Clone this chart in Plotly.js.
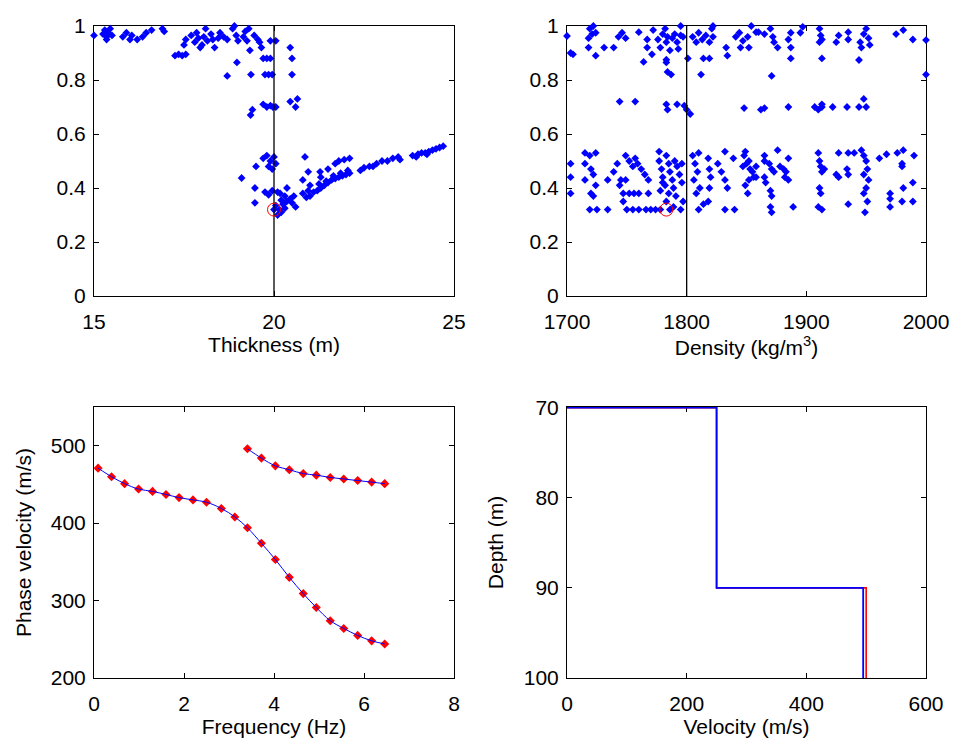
<!DOCTYPE html>
<html>
<head>
<meta charset="utf-8">
<script src="https://cdn.plot.ly/plotly-3.0.1.min.js"></script>
<style>html,body{margin:0;padding:0;background:#fff;}#plot{width:954px;height:738px;}</style>
</head>
<body>
<div id="plot"></div>
<script>
// ---- Top-left: thickness vs misfit ----
const thicknessVals = [
15.0,15.25,15.3,15.35,15.4,15.45,15.5,15.35,15.8,15.9,
16.0,16.05,16.2,16.35,16.45,16.6,16.9,16.95,17.25,17.35,
17.45,17.55,17.5,17.55,17.7,17.8,17.85,17.9,18.0,18.05,
18.1,18.15,17.95,18.35,18.45,18.5,18.6,18.7,18.85,18.9,
18.95,19.0,18.97,18.7,19.15,19.2,19.25,19.3,19.33,19.36,
19.45,19.55,19.6,19.65,19.7,19.8,19.9,19.75,19.85,19.9,
19.7,19.8,19.9,19.97,19.4,19.35,19.95,20.45,20.5,20.5,
20.45,20.65,20.6,19.7,19.8,19.9,20.0,20.05,19.85,19.95,
19.5,19.1,19.47,19.75,19.85,19.95,20.1,20.17,19.47,20.0,
20.05,20.15,20.25,20.3,20.35,20.45,20.5,20.55,20.36,20.2,
20.1,20.2,20.86,20.95,20.8,20.8,20.95,20.9,21.0,21.1,
21.2,21.3,21.4,21.5,21.6,21.7,21.8,21.9,22.0,22.1,
21.25,21.45,21.65,21.85,22.05,21.28,21.5,21.7,21.8,21.95,
22.1,22.4,22.5,22.65,22.75,22.85,23.0,23.15,23.3,23.45,
23.5,23.85,24.0,24.1,24.2,24.3,24.4,24.5,24.6,24.7,
23.95,24.25,20.3,20.6,21.0,21.3,20.05,20.05,18.3,18.25];
const misfitThickness = [
0.965,0.97,0.985,0.96,0.975,0.99,0.965,0.95,0.96,0.975,
0.95,0.965,0.95,0.96,0.975,0.985,0.99,0.98,0.89,0.895,
0.89,0.895,0.93,0.95,0.965,0.94,0.975,0.955,0.93,0.96,
0.99,0.945,0.92,0.92,0.955,0.975,0.96,0.95,0.99,1.0,
0.965,0.945,0.865,0.815,0.96,0.98,0.945,0.99,0.91,0.82,
0.965,0.95,0.94,0.92,0.88,0.88,0.88,0.82,0.82,0.945,
0.71,0.70,0.705,0.70,0.69,0.67,0.82,0.92,0.88,0.82,
0.72,0.73,0.70,0.51,0.52,0.50,0.515,0.49,0.48,0.47,
0.48,0.437,0.40,0.385,0.375,0.39,0.385,0.38,0.345,0.32,
0.335,0.32,0.34,0.325,0.35,0.36,0.345,0.37,0.40,0.355,
0.30,0.31,0.515,0.46,0.43,0.38,0.39,0.365,0.37,0.385,
0.39,0.40,0.41,0.42,0.43,0.435,0.44,0.445,0.45,0.455,
0.415,0.425,0.445,0.455,0.465,0.46,0.47,0.49,0.50,0.505,
0.51,0.465,0.475,0.48,0.48,0.49,0.50,0.50,0.51,0.515,
0.505,0.52,0.525,0.53,0.53,0.535,0.54,0.545,0.55,0.555,
0.515,0.525,0.37,0.33,0.41,0.44,0.7,0.945,0.95,0.97];
const bestThickness = 20, bestThicknessMisfit = 0.32;

// ---- Top-right: density vs misfit ----
const densityVals = [
1700,1703,1705,1719,1722,1724,1721,1718,1718,1724,
1731,1739,1743,1746,1749,1760,1764,1767,1767,1772,
1771,1776,1778,1780,1782,1783,1784,1786,1788,1790,
1792,1795,1793,1797,1783,1783,1784,1787,1795,1744,
1757,1783,1784,1792,1798,1800,1803,1801,1805,1808,
1810,1813,1816,1819,1822,1814,1819,1812,1821,1822,
1833,1834,1841,1844,1847,1851,1845,1852,1854,1860,
1848,1862,1858,1865,1870,1872,1873,1876,1885,1887,
1887,1887,1895,1897,1911,1912,1913,1911,1913,1925,
1927,1935,1935,1945,1948,1950,1952,1953,1946,1944,
1975,1981,1989,2000,2000,1871,1865,1885,1907,1910,
1913,1922,1934,1944,1948,1950,1913,
1703,1703,1703,1715,1715,1715,1719,1720,1722,1724,
1720,1722,1724,1719,1725,1734,1734,1739,1742,1744,
1747,1745,1747,1749,1752,1755,1757,1759,1749,1752,
1756,1760,1750,1755,1760,1762,1765,1768,1768,1766,
1770,1774,1778,1777,1777,1779,1780,1782,1783,1785,
1786,1788,1789,1790,1792,1794,1796,1796,1778,1785,
1791,1783,1789,1795,1797,1786,1780,1805,1810,1807,
1809,1806,1811,1808,1810,1814,1818,1818,1819,1820,
1819,1826,1829,1832,1834,1832,1832,1840,1839,1847,
1849,1852,1855,1851,1852,1848,1850,1853,1856,1849,
1858,1858,1865,1865,1865,1866,1869,1871,1873,1870,
1871,1870,1871,1876,1878,1881,1883,1882,1885,1885,
1889,1910,1911,1912,1913,1915,1911,1912,1910,1913,
1925,1927,1927,1935,1940,1934,1935,1935,1946,1948,
1950,1951,1948,1952,1950,1948,1951,1949,1961,1967,
1976,1981,1980,1980,1990,1989,1981,1970,1970,1970,
1980,1989];
const misfitDensity = [
0.963,0.90,0.895,0.99,1.0,0.975,0.97,0.955,0.92,0.89,
0.92,0.92,0.96,0.975,0.955,0.977,0.867,0.95,0.92,0.985,
0.895,0.95,0.92,0.97,0.99,0.94,0.96,0.91,0.955,0.97,
0.94,0.965,0.915,0.96,0.875,0.865,0.83,0.82,1.0,0.72,
0.72,0.71,0.69,0.71,0.705,0.69,0.674,0.88,0.96,0.94,
0.975,0.95,0.965,0.94,0.96,0.88,0.88,0.82,0.99,1.0,
0.92,0.89,0.96,0.975,0.945,0.96,0.92,0.92,1.0,0.977,
0.696,0.69,0.977,0.97,0.99,0.96,0.94,0.92,0.95,0.975,
0.92,0.88,0.975,0.997,0.99,0.965,0.95,0.94,0.88,0.94,
0.965,0.977,0.95,0.94,0.97,0.99,0.955,0.93,0.92,0.874,
0.97,0.985,0.95,0.948,0.82,0.815,0.696,0.70,0.70,0.69,
0.71,0.70,0.70,0.70,0.73,0.70,0.70,
0.49,0.44,0.38,0.53,0.49,0.43,0.52,0.47,0.45,0.41,
0.38,0.37,0.53,0.32,0.32,0.43,0.32,0.46,0.49,0.41,
0.38,0.43,0.35,0.52,0.50,0.48,0.51,0.49,0.43,0.38,
0.38,0.38,0.32,0.32,0.32,0.47,0.45,0.43,0.38,0.32,
0.32,0.32,0.32,0.535,0.50,0.47,0.44,0.41,0.52,0.49,
0.46,0.43,0.40,0.50,0.48,0.45,0.42,0.49,0.39,0.38,
0.37,0.35,0.33,0.32,0.35,0.32,0.42,0.52,0.53,0.49,
0.46,0.43,0.40,0.38,0.32,0.34,0.35,0.51,0.47,0.44,
0.40,0.49,0.46,0.43,0.40,0.535,0.32,0.32,0.51,0.48,
0.535,0.50,0.46,0.38,0.43,0.52,0.49,0.47,0.44,0.41,
0.48,0.44,0.52,0.50,0.44,0.42,0.49,0.47,0.46,0.39,
0.37,0.33,0.31,0.54,0.48,0.47,0.46,0.44,0.43,0.51,
0.33,0.53,0.50,0.48,0.46,0.47,0.40,0.38,0.33,0.32,
0.45,0.44,0.53,0.53,0.53,0.47,0.45,0.34,0.54,0.52,
0.50,0.47,0.45,0.43,0.40,0.38,0.35,0.31,0.51,0.525,
0.53,0.54,0.49,0.48,0.52,0.42,0.40,0.38,0.36,0.33,
0.35,0.35];
const bestDensity = 1800, foundDensity = 1783, foundDensityMisfit = 0.32;

// ---- Bottom-left: dispersion curves ----
const freqMode0 = [0.09,0.39,0.68,0.99,1.30,1.60,1.89,2.20,2.50,2.83,3.13,3.41,3.72,4.03,4.34,4.65,4.94,5.25,5.55,5.86,6.17,6.46];
const velMode0 = [471,460,451,444,441,437,433,430,427,419,408,394,374,353,330,309,291,274,264,255,248,244];
const freqMode1 = [3.41,3.72,4.03,4.34,4.65,4.94,5.25,5.55,5.86,6.17,6.46];
const velMode1 = [496,484,474,469,464,462,459,457,455,453,451];

// ---- Bottom-right: velocity profiles ----
const depthProfile = [70,70,90,90,100];
const velTrue = [0,250,250,500,500];
const velInverted = [0,250,250,495,495];

const FONT = 'Liberation Sans, Arial, Helvetica, sans-serif';
const FS = 21;
function ax(o){
  return Object.assign({
    showline:true, linecolor:'#000', linewidth:1, mirror:'ticks',
    ticks:'inside', ticklen:5, tickcolor:'#000', tickwidth:1,
    showgrid:false, zeroline:false, tickfont:{family:FONT,size:FS,color:'#000'},
    automargin:false, layer:'below traces'
  }, o);
}
function xax(o){ return ax(Object.assign({ticklabelstandoff:7}, o)); }
function yax(o){ return ax(Object.assign({ticklabelstandoff:3}, o)); }
function ttl(t, s){ return {text:t, font:{family:FONT,size:FS,color:'#000'}, standoff:s}; }

const blueMk = {symbol:'diamond', size:6, color:'#0000ff'};
const traces = [
  {x:thicknessVals, y:misfitThickness, type:'scatter', mode:'markers', marker:blueMk, xaxis:'x', yaxis:'y', cliponaxis:false},
  {x:[bestThickness,bestThickness], y:[0,1], type:'scatter', mode:'lines', line:{color:'#000',width:1.3}, xaxis:'x', yaxis:'y'},
  {x:[bestThickness], y:[bestThicknessMisfit], type:'scatter', mode:'markers', marker:{symbol:'circle-open', size:13, color:'#ff0000', line:{width:1}}, xaxis:'x', yaxis:'y'},

  {x:densityVals, y:misfitDensity, type:'scatter', mode:'markers', marker:blueMk, xaxis:'x2', yaxis:'y2', cliponaxis:false},
  {x:[bestDensity,bestDensity], y:[0,1], type:'scatter', mode:'lines', line:{color:'#000',width:1.3}, xaxis:'x2', yaxis:'y2'},
  {x:[foundDensity], y:[foundDensityMisfit], type:'scatter', mode:'markers', marker:{symbol:'circle-open', size:13, color:'#ff0000', line:{width:1}}, xaxis:'x2', yaxis:'y2'},

  {x:freqMode0, y:velMode0, type:'scatter', mode:'markers', marker:{symbol:'diamond', size:7, color:'#ff0000'}, xaxis:'x3', yaxis:'y3'},
  {x:freqMode1, y:velMode1, type:'scatter', mode:'markers', marker:{symbol:'diamond', size:7, color:'#ff0000'}, xaxis:'x3', yaxis:'y3'},
  {x:freqMode0, y:velMode0, type:'scatter', mode:'lines', line:{color:'#0000ff', width:1, shape:'spline'}, xaxis:'x3', yaxis:'y3'},
  {x:freqMode1, y:velMode1, type:'scatter', mode:'lines', line:{color:'#0000ff', width:1, shape:'spline'}, xaxis:'x3', yaxis:'y3'},

  {x:velTrue, y:depthProfile, type:'scatter', mode:'lines', line:{color:'#ff0000', width:1.6}, xaxis:'x4', yaxis:'y4'},
  {x:velInverted, y:depthProfile, type:'scatter', mode:'lines', line:{color:'#0000ff', width:1.8}, xaxis:'x4', yaxis:'y4'}
];

const W=954, H=738;
const dx1=[94/W,454/W], dx2=[567/W,926/W];
const dyT=[1-296/H,1-26/H], dyB=[1-678/H,1-407/H];
const misfitTicks=[0,0.2,0.4,0.6,0.8,1], misfitLabels=['0','0.2','0.4','0.6','0.8','1'];

const layout = {
  width:W, height:H, showlegend:false,
  paper_bgcolor:'#fff', plot_bgcolor:'#fff',
  margin:{l:0,r:0,t:0,b:0},
  font:{family:FONT,size:FS,color:'#000'},
  xaxis: xax({domain:dx1, anchor:'y', range:[15,25], tickvals:[15,20,25], title:ttl('Thickness (m)',3)}),
  yaxis: yax({domain:dyT, anchor:'x', range:[0,1], tickvals:misfitTicks, ticktext:misfitLabels}),
  xaxis2: xax({domain:dx2, anchor:'y2', range:[1700,2000], tickvals:[1700,1800,1900,2000], title:ttl('Density (kg/m<sup>3</sup>)',2)}),
  yaxis2: yax({domain:dyT, anchor:'x2', range:[0,1], tickvals:misfitTicks, ticktext:misfitLabels}),
  xaxis3: xax({domain:dx1, anchor:'y3', range:[0,8], tickvals:[0,2,4,6,8], title:ttl('Frequency (Hz)',2)}),
  yaxis3: yax({domain:dyB, anchor:'x3', range:[200,550], tickvals:[200,300,400,500], title:ttl('Phase velocity (m/s)',13)}),
  xaxis4: xax({domain:dx2, anchor:'y4', range:[0,600], tickvals:[0,200,400,600], title:ttl('Velocity (m/s)',2)}),
  yaxis4: yax({domain:dyB, anchor:'x4', range:[100,69.92], tickvals:[70,80,90,100], title:ttl('Depth (m)',14)})
};

Plotly.newPlot('plot', traces, layout, {staticPlot:true, displayModeBar:false});
</script>
</body>
</html>
